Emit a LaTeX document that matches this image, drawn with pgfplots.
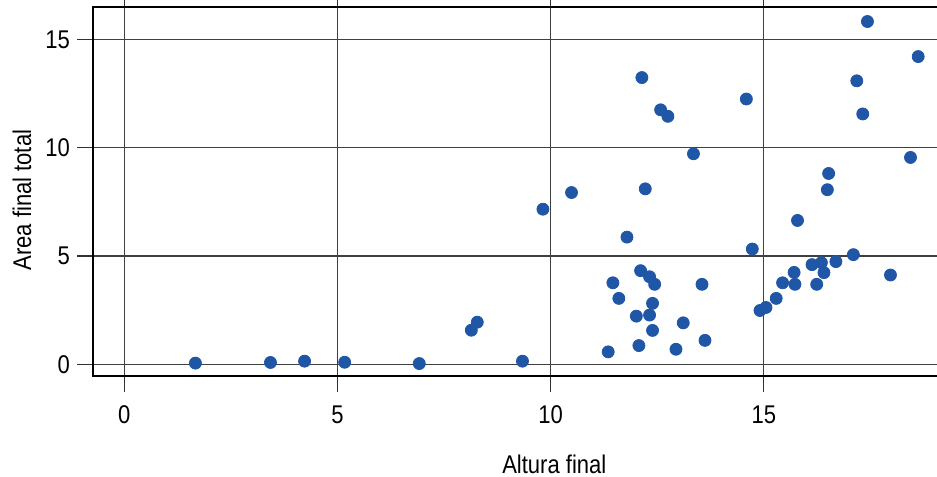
\documentclass[border=0pt]{standalone}
\usepackage{fontspec}
\setmainfont{Liberation Sans}[FakeStretch=0.86]
\usepackage{pgfplots}
\pgfplotsset{compat=1.18}
\definecolor{dotblue}{HTML}{1F56A5}
\begin{document}
\begin{tikzpicture}
\begin{axis}[
  scale only axis,
  width=422pt, height=184.5pt,
  xmin=-0.73, xmax=19.08,
  ymin=-0.56, ymax=16.5,
  xtick={0,5,10,15}, ytick={0,5,10,15},
  tick align=outside,
  major tick length=8pt,
  tick style={black!80, line width=0.6pt},
  grid=major,
  major grid style={black!75, line width=0.6pt},
  axis line style={black, line width=1pt},
  /pgf/number format/assume math mode=true,
  ticklabel style={font=\fontsize{12.8}{15}\selectfont},
  xticklabel style={yshift=-3pt},
  label style={font=\fontsize{12.8}{15}\selectfont},
  xlabel={Altura final},
  ylabel={Area final total},
  xlabel style={at={(axis description cs:0.546,-0.237)}, anchor=center},
  ylabel style={at={(axis description cs:-0.0841,0.477)}, anchor=center},
]
\addplot[only marks, mark=*, mark size=3pt, mark options={draw=dotblue, fill=dotblue}] coordinates {
(1.67,0.05) (3.43,0.08) (4.23,0.14) (5.17,0.09) (6.92,0.03)
(8.14,1.57) (8.28,1.94) (9.34,0.14) (9.82,7.16) (10.49,7.93)
(12.22,8.10) (11.79,5.87) (11.46,3.76) (11.60,3.04) (12.11,4.32)
(12.32,4.04) (12.44,3.69) (12.39,2.81) (12.01,2.22) (12.32,2.27)
(12.39,1.56) (13.11,1.91) (13.55,3.69) (13.62,1.10) (12.94,0.69)
(12.07,0.86) (11.35,0.57) (14.73,5.32) (16.49,8.06) (15.79,6.64)
(17.10,5.06) (16.13,4.60) (16.35,4.69) (16.69,4.74) (16.41,4.23)
(15.71,4.24) (15.44,3.76) (15.73,3.69) (16.24,3.69) (17.97,4.12)
(15.29,3.04) (15.05,2.62) (14.91,2.48) (17.43,15.83) (18.62,14.21)
(17.18,13.09) (17.32,11.56) (12.14,13.24) (12.58,11.75) (12.75,11.45)
(14.59,12.25) (13.35,9.72) (18.44,9.55) (16.52,8.81)
};
\end{axis}
\pgfresetboundingbox
\useasboundingbox (-46.5pt,-50pt) rectangle (421.6pt,188pt);
\end{tikzpicture}
\end{document}
